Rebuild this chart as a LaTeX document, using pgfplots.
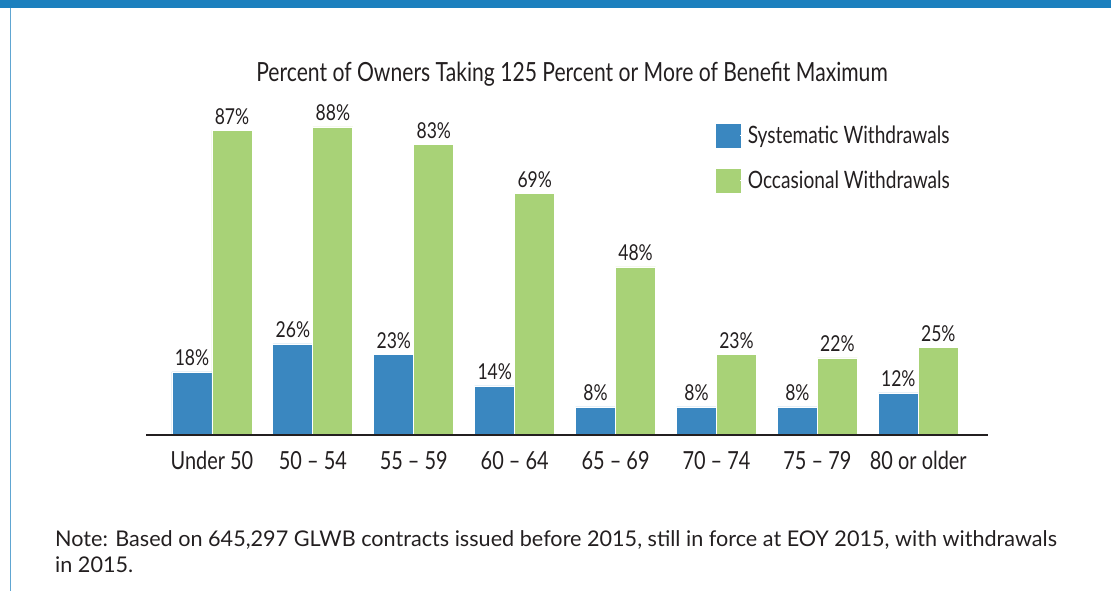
\documentclass[border=0pt]{standalone}
\usepackage{fontspec}
\setmainfont{Lato}[FakeStretch=0.8]
\newfontfamily\notefont{Lato}[FakeStretch=1.0]
\usepackage{pgfplots}
\pgfplotsset{compat=1.18}
\definecolor{topblue}{HTML}{1C80BE}
\definecolor{barblue}{HTML}{3A87C0}
\definecolor{bargreen}{HTML}{A8D277}
\definecolor{txt}{HTML}{231F20}
\begin{document}
\begin{tikzpicture}[x=1bp,y=1bp]
\path[use as bounding box] (0,0) rectangle (1111,591);
\fill[topblue] (0,583) rectangle (1111,591);
\fill[topblue!70] (9.5,0) rectangle (10.7,583);
\node[anchor=base, text=txt, font=\fontsize{26.5}{30}\selectfont, inner sep=0pt] at (572,509) {Percent of Owners Taking 125 Percent or More of Benefit Maximum};
\begin{axis}[
  at={(146bp,156bp)}, anchor=south west,
  x=100.9bp, y=3.5bp,
  xmin=-0.654, xmax=7.69, ymin=0, ymax=95,
  ybar=0pt, bar width=40bp,
  axis on top,
  axis y line=none,
  axis x line*=bottom,
  x axis line style={-, line width=2.2bp, draw=txt},
  xtick=data,
  xticklabels={Under 50, 50 -- 54, 55 -- 59, 60 -- 64, 65 -- 69, 70 -- 74, 75 -- 79, 80 or older},
  major tick length=0pt,
  xticklabel style={anchor=base, yshift=-35bp, text=txt, font=\fontsize{25}{30}\selectfont},
  /pgf/number format/assume math mode=true,
  nodes near coords={\pgfmathprintnumber{\pgfplotspointmeta}\%},
  nodes near coords style={anchor=base, yshift=6bp, text=txt, font=\fontsize{22}{26}\selectfont, inner sep=0pt},
  clip=false,
  legend style={at={(axis cs:4.995,88.9)}, anchor=north west, draw=none, fill=none,
    font=\fontsize{24}{28}\selectfont, text=txt, row sep=21bp, inner sep=0pt, outer sep=0pt,
    nodes={inner sep=0pt}},
  legend cell align=left,
]
\addplot[fill=barblue, draw=white, line width=0.8bp,
  legend image code/.code={\fill[barblue] (0bp,-11.5bp) rectangle (24bp,11.5bp); \path (24bp,0) -- (31bp,0);}]
  coordinates {(0,18) (1,26) (2,23) (3,14) (4,8) (5,8) (6,8) (7,12)};
\addplot[fill=bargreen, draw=white, line width=0.8bp,
  legend image code/.code={\fill[bargreen] (0bp,-11.5bp) rectangle (24bp,11.5bp); \path (24bp,0) -- (31bp,0);}]
  coordinates {(0,87) (1,88) (2,83) (3,69) (4,48) (5,23) (6,22) (7,25)};
\legend{Systematic Withdrawals, Occasional Withdrawals}
\end{axis}
\node[anchor=base west, text=txt, font=\notefont\fontsize{21.7}{25}\selectfont, inner sep=0pt] at (55,44) {Note: Based on 645,297 GLWB contracts issued before 2015, still in force at EOY 2015, with withdrawals};
\node[anchor=base west, text=txt, font=\notefont\fontsize{21.7}{25}\selectfont, inner sep=0pt] at (55,18) {in 2015.};
\end{tikzpicture}
\end{document}
